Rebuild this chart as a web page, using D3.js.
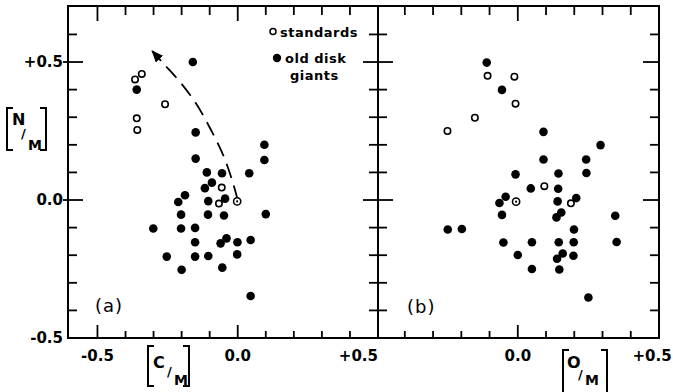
<!DOCTYPE html>
<html>
<head>
<meta charset="utf-8">
<script src="https://cdn.jsdelivr.net/npm/d3@7"></script>
<style>
  body { margin: 0; background: #fff; }
  text { font-family: "DejaVu Sans", sans-serif; fill: #000; }
</style>
</head>
<body>
<script>
// ---------- data ([N/M] against [C/M] and [O/M])
var giantsCM = [
  [-0.16, 0.50], [-0.36, 0.40], [-0.15, 0.245], [-0.15, 0.15], [0.095, 0.20],
  [0.095, 0.145], [0.041, 0.097], [-0.11, 0.10], [-0.056, 0.097], [-0.092, 0.063],
  [-0.117, 0.043], [-0.188, 0.017], [-0.212, -0.007], [-0.105, -0.004], [-0.045, 0.005],
  [-0.202, -0.053], [-0.106, -0.053], [-0.049, -0.056], [0.10, -0.051], [-0.301, -0.103],
  [-0.202, -0.103], [-0.152, -0.101], [-0.152, -0.153], [-0.061, -0.157], [-0.04, -0.139],
  [-0.001, -0.153], [0.046, -0.145], [-0.253, -0.205], [-0.152, -0.205], [-0.105, -0.203],
  [-0.002, -0.197], [-0.20, -0.253], [-0.055, -0.245], [0.046, -0.348]
];
var standardsCM = [
  [-0.366, 0.437], [-0.342, 0.457], [-0.259, 0.347], [-0.36, 0.296], [-0.358, 0.254],
  [-0.057, 0.045], [-0.067, -0.013]
];
var sunCM = [[-0.002, -0.005]];

var giantsOM = [
  [-0.11, 0.498], [-0.056, 0.399], [0.091, 0.247], [0.293, 0.199], [0.091, 0.147],
  [0.242, 0.147], [-0.008, 0.093], [0.144, 0.096], [0.243, 0.098], [0.046, 0.042],
  [0.143, 0.041], [-0.043, 0.012], [-0.065, -0.011], [0.141, -0.005], [0.207, 0.007],
  [-0.056, -0.054], [0.154, -0.045], [0.137, -0.063], [0.345, -0.057], [-0.248, -0.107],
  [-0.198, -0.105], [0.199, -0.107], [-0.051, -0.154], [0.05, -0.153], [0.145, -0.153],
  [0.198, -0.153], [0.35, -0.152], [0.0, -0.199], [0.159, -0.194], [0.139, -0.213],
  [0.197, -0.202], [0.05, -0.25], [0.147, -0.252], [0.25, -0.353]
];
var standardsOM = [
  [-0.107, 0.45], [-0.012, 0.447], [-0.008, 0.349], [-0.152, 0.298], [-0.249, 0.25],
  [0.094, 0.05], [0.188, -0.012]
];
var sunOM = [[-0.006, -0.006]];

// dashed arrow in panel (a)
var arrowCM = [
  [0, 0], [-0.02, 0.072], [-0.052, 0.163], [-0.099, 0.261], [-0.152, 0.355],
  [-0.206, 0.428], [-0.266, 0.496], [-0.305, 0.54]
];

// ticks
var xTicksC = [-0.5, -0.4, -0.3, -0.2, -0.1, 0, 0.1, 0.2, 0.3, 0.4, 0.5];
var xTicksO = [-0.4, -0.3, -0.2, -0.1, 0, 0.1, 0.2, 0.3, 0.4];
var yTicks = [-0.4, -0.3, -0.2, -0.1, 0, 0.1, 0.2, 0.3, 0.4, 0.5, 0.6];
var majorTicks = [-0.5, 0, 0.5];
var xLabels = ["-0.5", "0.0", "+0.5"];
var yLabels = ["-0.5", "0.0", "+0.5"];

/////////////////////////////// sizes
var W = 673, H = 392;
var frameL = 68, frameM = 378, frameR = 659, frameT = 6, frameB = 338;

var xC = d3.scaleLinear().domain([-0.605, 0.5]).range([frameL, frameM]);
var xO = d3.scaleLinear().domain([-0.495, 0.5]).range([frameM, frameR]);
var y = d3.scaleLinear().domain([-0.5, 0.703]).range([frameB, frameT]);

var svg = d3.select("body").append("svg").attr("width", W).attr("height", H);

function isMajor(v) {
  return majorTicks.some((m) => Math.abs(m - v) < 1e-9);
}

// frames
svg.append("rect").attr("x", frameL).attr("y", frameT)
  .attr("width", frameR - frameL).attr("height", frameB - frameT)
  .attr("fill", "none").attr("stroke", "#000").attr("stroke-width", 2);
svg.append("line").attr("x1", frameM).attr("x2", frameM).attr("y1", frameT).attr("y2", frameB)
  .attr("stroke", "#000").attr("stroke-width", 2);

var ticks = svg.append("g").attr("stroke", "#000").attr("stroke-width", 1.8);

// top and bottom ticks of both panels
[[xC, xTicksC], [xO, xTicksO]].forEach(function (p) {
  var sc = p[0];
  p[1].forEach(function (v) {
    var big = isMajor(v);
    ticks.append("line").attr("x1", sc(v)).attr("x2", sc(v))
      .attr("y1", frameT).attr("y2", frameT + (big ? 15 : 9));
    ticks.append("line").attr("x1", sc(v)).attr("x2", sc(v))
      .attr("y1", frameB).attr("y2", frameB - (big ? 13 : 7));
  });
});

// y ticks: left edge, shared middle, right edge
yTicks.forEach(function (v) {
  var big = isMajor(v);
  ticks.append("line").attr("y1", y(v)).attr("y2", y(v))
    .attr("x1", frameL - (big ? 5 : 0)).attr("x2", frameL + (big ? 15 : 9));
  ticks.append("line").attr("y1", y(v)).attr("y2", y(v))
    .attr("x1", frameM - (big ? 15 : 9)).attr("x2", frameM + (big ? 15 : 9));
  ticks.append("line").attr("y1", y(v)).attr("y2", y(v))
    .attr("x1", frameR - (big ? 16 : 9)).attr("x2", frameR);
});

// tick labels
var lab = svg.append("g").style("font-size", "15px").style("font-weight", "bold");
majorTicks.forEach(function (v, i) {
  lab.append("text").attr("x", 63).attr("y", y(v)).attr("dy", "0.36em")
    .attr("text-anchor", "end").text(yLabels[i]);
});
// x labels panel (a)
majorTicks.forEach(function (v, i) {
  lab.append("text").attr("x", xC(v)).attr("y", 361)
    .attr("text-anchor", i == 2 ? "end" : "middle").text(xLabels[i]);
});
// x labels panel (b)
[0, 0.5].forEach(function (v, i) {
  lab.append("text").attr("x", xO(v) + (i == 1 ? -7 : 0)).attr("y", 361)
    .attr("text-anchor", "middle").text(xLabels[i + 1]);
});

// axis titles [X/M]
function bracketTitle(x0, x1, y0, y1, upper, slash, lower) {
  var g = svg.append("g");
  g.append("path")
    .attr("d", "M" + (x0 + 6) + "," + y0 + "H" + x0 + "V" + y1 + "H" + (x0 + 6))
    .attr("fill", "none").attr("stroke", "#000").attr("stroke-width", 2);
  g.append("path")
    .attr("d", "M" + (x1 - 6) + "," + y0 + "H" + x1 + "V" + y1 + "H" + (x1 - 6))
    .attr("fill", "none").attr("stroke", "#000").attr("stroke-width", 2);
  g.append("text").attr("x", upper[1]).attr("y", upper[2])
    .style("font-size", "16px").style("font-weight", "bold").text(upper[0]);
  g.append("text").attr("x", slash[0]).attr("y", slash[1])
    .style("font-size", "13px").style("font-weight", "bold").text("/");
  g.append("text").attr("x", lower[0]).attr("y", lower[1])
    .style("font-size", "14px").style("font-weight", "bold").text("M");
}
bracketTitle(148, 189, 346, 386, ["C", 153, 368], [167, 376], [174, 385]);
bracketTitle(7, 46, 108, 150, ["N", 12, 125], [21, 138], [28, 150]);
bracketTitle(563, 607, 350, 393, ["O", 567, 368], [578, 379], [585, 385]);

// panel tags
svg.append("text").attr("x", 95).attr("y", 312).style("font-size", "18px")
  .style("letter-spacing", "1px").text("(a)");
svg.append("text").attr("x", 407).attr("y", 313).style("font-size", "18px")
  .style("letter-spacing", "1px").text("(b)");

// legend
svg.append("circle").attr("cx", 273).attr("cy", 31.5).attr("r", 3)
  .attr("fill", "#fff").attr("stroke", "#000").attr("stroke-width", 1.5);
svg.append("circle").attr("cx", 277).attr("cy", 58).attr("r", 4.2).attr("fill", "#000");
var leg = svg.append("g").style("font-size", "13px").style("font-weight", "bold")
  .style("letter-spacing", "0.5px");
leg.append("text").attr("x", 280).attr("y", 37).text("standards");
leg.append("text").attr("x", 285).attr("y", 63).text("old disk");
leg.append("text").attr("x", 290).attr("y", 80).text("giants");

// dashed arrow
svg.append("defs").append("marker")
  .attr("id", "head").attr("viewBox", "0 0 12 10")
  .attr("refX", 11).attr("refY", 5)
  .attr("markerWidth", 12).attr("markerHeight", 10)
  .attr("markerUnits", "userSpaceOnUse").attr("orient", "auto")
  .append("path").attr("d", "M0,0L12,5L0,10Z").attr("fill", "#000");

svg.append("path")
  .datum(arrowCM)
  .attr("d", d3.line().x((d) => xC(d[0])).y((d) => y(d[1])).curve(d3.curveCatmullRom))
  .attr("fill", "none").attr("stroke", "#000").attr("stroke-width", 1.8)
  .attr("stroke-dasharray", "15,8")
  .attr("marker-end", "url(#head)");

// points
function drawPanel(sc, giants, stds, sun) {
  var g = svg.append("g");
  g.selectAll(".giant").data(giants).enter().append("circle")
    .attr("class", "giant")
    .attr("cx", (d) => sc(d[0])).attr("cy", (d) => y(d[1]))
    .attr("r", 4.3).attr("fill", "#000");
  g.selectAll(".std").data(stds).enter().append("circle")
    .attr("class", "std")
    .attr("cx", (d) => sc(d[0])).attr("cy", (d) => y(d[1]))
    .attr("r", 3.2).attr("fill", "#fff").attr("stroke", "#000").attr("stroke-width", 1.6);
  g.selectAll(".sun").data(sun).enter().append("circle")
    .attr("class", "sun")
    .attr("cx", (d) => sc(d[0])).attr("cy", (d) => y(d[1]))
    .attr("r", 3.6).attr("fill", "#fff").attr("stroke", "#000").attr("stroke-width", 1.6);
  g.selectAll(".sundot").data(sun).enter().append("circle")
    .attr("class", "sundot")
    .attr("cx", (d) => sc(d[0])).attr("cy", (d) => y(d[1]))
    .attr("r", 1.1).attr("fill", "#000");
}
drawPanel(xC, giantsCM, standardsCM, sunCM);
drawPanel(xO, giantsOM, standardsOM, sunOM);
</script>
</body>
</html>
